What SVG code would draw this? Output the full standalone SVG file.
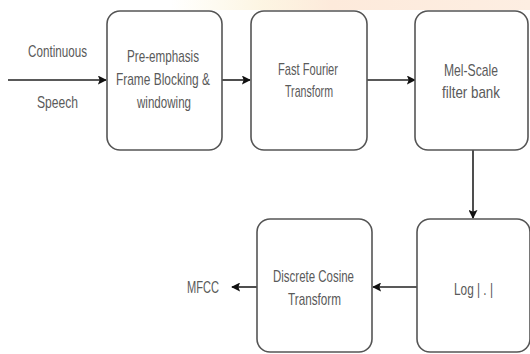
<svg xmlns="http://www.w3.org/2000/svg" width="530" height="354" viewBox="0 0 530 354">
<defs>
<linearGradient id="band" x1="0" y1="0" x2="1" y2="0">
<stop offset="0" stop-color="#fdf6dc" stop-opacity="0"/>
<stop offset="0.25" stop-color="#fcf3dc" stop-opacity="0.8"/>
<stop offset="0.45" stop-color="#fdeadb"/>
<stop offset="1" stop-color="#fdeee2"/>
</linearGradient>
<marker id="ah" viewBox="0 0 10 10" refX="9" refY="5" markerWidth="9" markerHeight="9" markerUnits="userSpaceOnUse" orient="auto">
<path d="M0,0 L10,5 L0,10 L2,5 Z" fill="#111"/>
</marker>
<style>
.box{fill:#fff;stroke:#555;stroke-width:1.6}
.t{font-family:"Liberation Sans",Arial,sans-serif;font-size:17px;fill:#5a5a5a;text-anchor:middle}
.c{fill:none;stroke:#222;stroke-width:1.6;marker-end:url(#ah)}
</style>
</defs>
<rect width="530" height="354" fill="#fff"/>
<rect x="170" y="0" width="360" height="10" fill="url(#band)"/>
<g id="connectors">
<line class="c" x1="8" y1="80" x2="106" y2="80"/>
<line class="c" x1="222" y1="80" x2="250" y2="80"/>
<line class="c" x1="367" y1="80" x2="415" y2="80"/>
<line class="c" x1="473" y1="150" x2="473" y2="218"/>
<line class="c" x1="417" y1="287" x2="373" y2="287"/>
<line class="c" x1="257" y1="287" x2="232" y2="287"/>
</g>
<g id="input">
<text class="t" x="57.5" y="57" textLength="59" lengthAdjust="spacingAndGlyphs">Continuous</text>
<text class="t" x="57.5" y="108" textLength="41" lengthAdjust="spacingAndGlyphs">Speech</text>
</g>
<g id="preemphasis">
<rect class="box" x="107" y="11" width="115" height="139" rx="13"/>
<text class="t" x="163" y="62" textLength="72" lengthAdjust="spacingAndGlyphs">Pre-emphasis</text>
<text class="t" x="163" y="85" textLength="94" lengthAdjust="spacingAndGlyphs">Frame Blocking &amp;</text>
<text class="t" x="164" y="108" textLength="54" lengthAdjust="spacingAndGlyphs">windowing</text>
</g>
<g id="fft">
<rect class="box" x="251" y="11" width="116" height="139" rx="13"/>
<text class="t" x="308" y="75" textLength="60" lengthAdjust="spacingAndGlyphs">Fast Fourier</text>
<text class="t" x="309" y="97" textLength="48" lengthAdjust="spacingAndGlyphs">Transform</text>
</g>
<g id="mel">
<rect class="box" x="415" y="11" width="113" height="139" rx="13"/>
<text class="t" x="471" y="76" textLength="54" lengthAdjust="spacingAndGlyphs">Mel-Scale</text>
<text class="t" x="471" y="98" textLength="58" lengthAdjust="spacingAndGlyphs">filter bank</text>
</g>
<g id="log">
<rect class="box" x="417" y="219" width="113" height="133" rx="13"/>
<text class="t" x="473.5" y="295" textLength="39" lengthAdjust="spacingAndGlyphs">Log | . |</text>
</g>
<g id="dct">
<rect class="box" x="257" y="219" width="115" height="133" rx="13"/>
<text class="t" x="313.5" y="282" textLength="81" lengthAdjust="spacingAndGlyphs">Discrete Cosine</text>
<text class="t" x="314.5" y="305" textLength="53" lengthAdjust="spacingAndGlyphs">Transform</text>
</g>
<g id="mfcc">
<text class="t" x="203" y="293" textLength="32" lengthAdjust="spacingAndGlyphs">MFCC</text>
</g>
</svg>
